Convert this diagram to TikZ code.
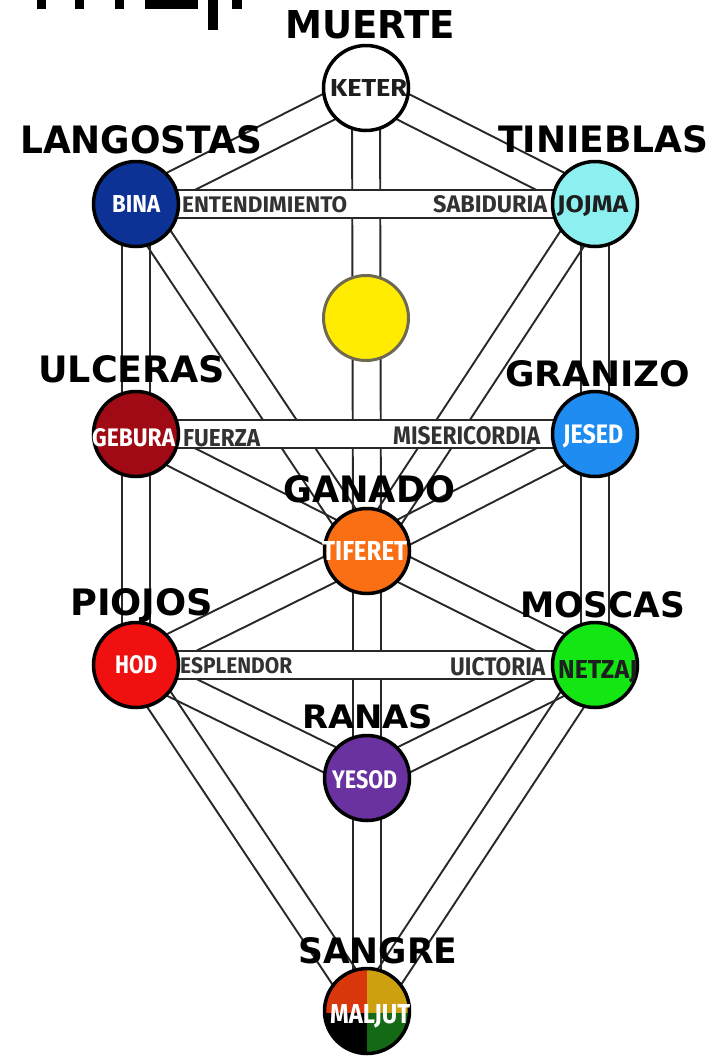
\documentclass[tikz,border=0pt]{standalone}
\usepackage{fontspec}
\usepackage{graphicx}
\usetikzlibrary{calc}
\newfontfamily\sefont{Fira Sans}
\newfontfamily\bigfont{DejaVu Sans}
\definecolor{cLine}{RGB}{40,40,40}
\definecolor{cBina}{RGB}{12,50,150}
\definecolor{cJojma}{RGB}{140,240,240}
\definecolor{cDaat}{RGB}{255,236,0}
\definecolor{cDaatEdge}{RGB}{110,105,80}
\definecolor{cGebura}{RGB}{160,10,20}
\definecolor{cJesed}{RGB}{30,140,240}
\definecolor{cTiferet}{RGB}{250,110,20}
\definecolor{cHod}{RGB}{240,16,16}
\definecolor{cNetzaj}{RGB}{20,230,20}
\definecolor{cYesod}{RGB}{105,50,160}
\definecolor{cMalTL}{RGB}{215,55,10}
\definecolor{cMalTR}{RGB}{205,160,15}
\definecolor{cMalBR}{RGB}{20,105,20}
\definecolor{cBand}{RGB}{50,50,50}
\definecolor{cDarkTxt}{RGB}{30,30,30}
\newcommand{\treepath}[2]{%
  \draw[pathline] ($(#1)!14pt!90:(#2)$) -- ($(#2)!14pt!-90:(#1)$);
  \draw[pathline] ($(#1)!14pt!-90:(#2)$) -- ($(#2)!14pt!90:(#1)$);}
\newcommand{\sname}[3]{\resizebox{#1pt}{#2pt}{\sefont\bfseries #3}}
\newcommand{\bname}[3]{\resizebox{#1pt}{#2pt}{\bigfont\bfseries #3}}
\begin{document}
\begin{tikzpicture}[x=1pt,y=-1pt,
  pathline/.style={draw=cLine,line width=1.9pt},
  band/.style={draw=cLine,line width=1.9pt,fill=white},
  sef/.style={circle,draw=black,line width=3.5pt,minimum size=85pt,inner sep=0pt},
  lab/.style={anchor=base west,inner sep=0pt},
  bigl/.style={anchor=base west,inner sep=0pt,text=black}]
\fill[white] (0,0) rectangle (722,1058);
\useasboundingbox (0,0) rectangle (722,1058);
% cut-off marks at top left
\fill[black] (37,0) rectangle (46,9);
\fill[black] (75,0) rectangle (84,9);
\fill[black] (115,0) rectangle (124,9);
\fill[black] (145,0) rectangle (198,9);
\fill[black] (208,0) rectangle (218,30);
\fill[black] (232,0) rectangle (242,9);
% sephirot positions
\coordinate (keter) at (366,88);
\coordinate (bina) at (136,204);
\coordinate (jojma) at (595,204);
\coordinate (daat) at (366,318);
\coordinate (gebura) at (136,434);
\coordinate (jesed) at (595,434);
\coordinate (tiferet) at (367,551);
\coordinate (hod) at (136,665);
\coordinate (netzaj) at (595,665);
\coordinate (yesod) at (367,778);
\coordinate (maljut) at (367,1011);
% paths
\treepath{keter}{bina}
\treepath{keter}{jojma}
\treepath{keter}{tiferet}
\treepath{bina}{gebura}
\treepath{jojma}{jesed}
\treepath{bina}{tiferet}
\treepath{jojma}{tiferet}
\treepath{gebura}{tiferet}
\treepath{jesed}{tiferet}
\treepath{gebura}{hod}
\treepath{jesed}{netzaj}
\treepath{hod}{tiferet}
\treepath{netzaj}{tiferet}
\treepath{tiferet}{yesod}
\treepath{hod}{yesod}
\treepath{netzaj}{yesod}
\treepath{hod}{maljut}
\treepath{netzaj}{maljut}
\treepath{yesod}{maljut}
% horizontal bands
\draw[band] ($(bina)+(0,-14)$) rectangle ($(jojma)+(0,14)$);
\draw[band] ($(gebura)+(0,-14)$) rectangle ($(jesed)+(0,14)$);
\draw[band] ($(hod)+(0,-14)$) rectangle ($(netzaj)+(0,14)$);
% circles
\node[sef,fill=white] (cketer) at (keter) {};
\node[sef,fill=cBina] (cbina) at (bina) {};
\node[sef,fill=cJojma] (cjojma) at (jojma) {};
\node[sef,fill=cDaat,draw=cDaatEdge,line width=3pt] (cdaat) at (daat) {};
\node[sef,fill=cGebura] (cgebura) at (gebura) {};
\node[sef,fill=cJesed] (cjesed) at (jesed) {};
\node[sef,fill=cTiferet] (ctiferet) at (tiferet) {};
\node[sef,fill=cHod] (chod) at (hod) {};
\node[sef,fill=cNetzaj] (cnetzaj) at (netzaj) {};
\node[sef,fill=cYesod] (cyesod) at (yesod) {};
\begin{scope}
  \clip (maljut) circle (42.5);
  \fill[cMalTL] ($(maljut)+(-50,-50)$) rectangle ($(maljut)+(0,2)$);
  \fill[cMalTR] ($(maljut)+(0,-50)$) rectangle ($(maljut)+(50,2)$);
  \fill[black] ($(maljut)+(-50,2)$) rectangle ($(maljut)+(0,50)$);
  \fill[cMalBR] ($(maljut)+(0,2)$) rectangle ($(maljut)+(50,50)$);
\end{scope}
\node[sef] (cmaljut) at (maljut) {};
% names in circles
\node[lab,text=cDarkTxt] (tketer) at (330,96) {\sname{77}{17}{KETER}};
\node[lab,text=white] (tbina) at (112,212) {\sname{48}{17}{BINA}};
\node[lab,text=cDarkTxt] (tjojma) at (557,212) {\sname{71}{17}{JOJMA}};
\node[lab,text=white] (tgebura) at (92,446) {\sname{83}{18}{GEBURA}};
\node[lab,text=white] (tjesed) at (563,443) {\sname{60}{19}{JESED}};
\node[lab,text=white] (ttiferet) at (322,560) {\sname{85}{19}{TIFERET}};
\node[lab,text=white] (thod) at (115,673) {\sname{42}{18}{HOD}};
\node[lab,text=cDarkTxt] (tnetzaj) at (558,678) {\sname{79}{18}{NETZAJ}};
\node[lab,text=white] (tyesod) at (332,788) {\sname{65}{18}{YESOD}};
\node[lab,text=white] (tmaljut) at (330,1023) {\sname{80}{19}{MALJUT}};
% band labels
\node[lab,text=cBand] (lent) at (182,212) {\sname{165}{16}{ENTENDIMIENTO}};
\node[lab,text=cBand] (lsab) at (433,212) {\sname{114}{17}{SABIDURIA}};
\node[lab,text=cBand] (lfue) at (183,446) {\sname{77}{17}{FUERZA}};
\node[lab,text=cBand] (lmis) at (393,444) {\sname{147}{18}{MISERICORDIA}};
\node[lab,text=cBand] (lesp) at (180,673) {\sname{112}{16}{ESPLENDOR}};
\node[lab,text=cBand] (lvic) at (450,675) {\sname{95}{18}{UICTORIA}};
% plague labels
\node[bigl] (pmuerte) at (285,38) {\bname{170}{28}{MUERTE}};
\node[bigl] (plang) at (20,153) {\bname{242}{28}{LANGOSTAS}};
\node[bigl] (ptin) at (498,152) {\bname{210}{27}{TINIEBLAS}};
\node[bigl] (pulc) at (38,382) {\bname{187}{27}{ULCERAS}};
\node[bigl] (pgran) at (505,386) {\bname{185}{26}{GRANIZO}};
\node[bigl] (pgan) at (283,502) {\bname{172}{27}{GANADO}};
\node[bigl] (ppio) at (70,615) {\bname{143}{27}{PIOJOS}};
\node[bigl] (pmos) at (520,617) {\bname{165}{26}{MOSCAS}};
\node[bigl] (pran) at (302,728) {\bname{131}{24}{RANAS}};
\node[bigl] (psan) at (298,963) {\bname{159}{26}{SANGRE}};
\end{tikzpicture}
\end{document}
